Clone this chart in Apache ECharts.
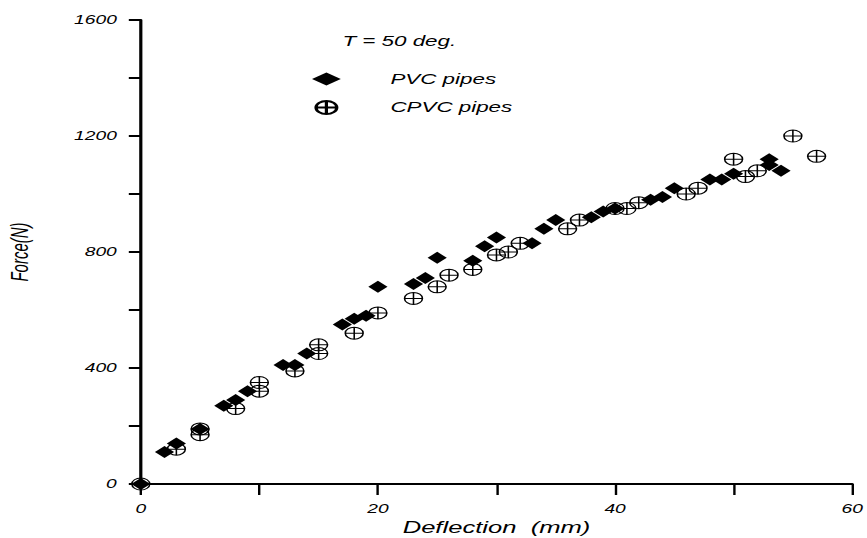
<!DOCTYPE html>
<html>
<head>
<meta charset="utf-8">
<script src="https://cdn.jsdelivr.net/npm/echarts@6/dist/echarts.min.js"></script>
<style>
  html, body { margin: 0; padding: 0; background: #fff; overflow: hidden; }
  #wrap { width: 867px; height: 538px; overflow: hidden; }
  /* the original figure is stretched sideways, so draw narrow and widen */
  #charts { width: 542px; height: 538px; transform: scaleX(1.6); transform-origin: 0 0; }
</style>
</head>
<body>
<div id="wrap"><div id="charts"></div></div>
<script>
// Deflection (mm) / Force (N)
var pvcX = [0, 2, 3, 5, 7, 8, 9, 12, 13, 14, 17, 18, 19, 20, 23, 24, 25, 28, 29, 30,
    33, 34, 35, 38, 39, 40, 43, 44, 45, 48, 49, 50, 53, 53, 54];
var pvcY = [0, 110, 140, 190, 270, 290, 320, 410, 410, 450, 550, 570, 580, 680, 690, 710, 780, 770, 820, 850,
    830, 880, 910, 920, 940, 950, 980, 990, 1020, 1050, 1050, 1070, 1120, 1100, 1080];

var cpvcX = [0, 3, 5, 5, 8, 10, 10, 13, 15, 15, 18, 20, 23, 25, 26, 28, 30, 31, 32,
    36, 37, 40, 41, 42, 46, 47, 50, 51, 52, 55, 57];
var cpvcY = [0, 120, 190, 170, 260, 350, 320, 390, 480, 450, 520, 590, 640, 680, 720, 740, 790, 800, 830,
    880, 910, 950, 950, 970, 1000, 1020, 1120, 1060, 1080, 1200, 1130];

var xTicks = [0, 20, 40, 60];
var yTicks = [0, 400, 800, 1200, 1600];

var seriesNames = ['PVC pipes', 'CPVC pipes'];

// circle with a cross
var crossCircle = 'path://M0,10 A10,10 0 1,1 20,10 A10,10 0 1,1 0,10 Z M0,10 L20,10 M10,0 L10,20';

function pairs(xs, ys) {
    var out = [], i = 0;
    for (i; i < xs.length; i++) {
        out.push([xs[i], ys[i]]);
    }
    return out;
}

var font = '"Liberation Sans", Arial, sans-serif';
var chart = echarts.init(document.getElementById('charts'), null, { renderer: 'svg' });

var option = {
    animation: false,
    backgroundColor: '#fff',
    title: {
        text: 'T = 50 deg.',
        left: 214,
        top: 34,
        padding: 0,
        textStyle: { fontFamily: font, fontStyle: 'italic', fontWeight: 'normal', fontSize: 14, color: '#000' }
    },
    legend: {
        orient: 'vertical',
        left: 195,
        top: 72,
        padding: 0,
        itemGap: 14,
        itemWidth: 18,
        itemHeight: 13,
        data: seriesNames,
        textStyle: { fontFamily: font, fontStyle: 'italic', fontSize: 14, color: '#000', padding: [0, 0, 0, 26] }
    },
    grid: { left: 88, right: 9.4, top: 20, bottom: 54, outerBoundsMode: 'none', containLabel: false },
    xAxis: {
        type: 'value',
        min: xTicks[0],
        max: xTicks[xTicks.length - 1],
        interval: 20,
        name: 'Deflection  (mm)',
        nameLocation: 'middle',
        nameGap: 27,
        nameTextStyle: { fontFamily: font, fontStyle: 'italic', fontSize: 16, color: '#000' },
        axisLine: { lineStyle: { color: '#000', width: 2 } },
        axisTick: { inside: false, length: 11, lineStyle: { color: '#000', width: 1.5 } },
        minorTick: { show: true, splitNumber: 2, length: 11, lineStyle: { color: '#000', width: 1.5 } },
        axisLabel: { margin: 19, fontFamily: font, fontStyle: 'italic', fontSize: 12, color: '#000' },
        splitLine: { show: false }
    },
    yAxis: {
        type: 'value',
        min: yTicks[0],
        max: yTicks[yTicks.length - 1],
        interval: 400,
        name: 'Force(N)',
        nameLocation: 'middle',
        nameGap: 68,
        nameTextStyle: { fontFamily: font, fontStyle: 'italic', fontSize: 15, color: '#000' },
        axisLine: { lineStyle: { color: '#000', width: 2 } },
        axisTick: { inside: false, length: 7.5, lineStyle: { color: '#000', width: 2 } },
        minorTick: { show: true, splitNumber: 2, length: 7.5, lineStyle: { color: '#000', width: 2 } },
        axisLabel: {
            margin: 15, fontFamily: font, fontStyle: 'italic', fontSize: 12, color: '#000',
            formatter: function (v) { return String(v); }
        },
        splitLine: { show: false }
    },
    series: [
        {
            name: seriesNames[1],
            type: 'scatter',
            clip: false,
            symbol: crossCircle,
            symbolSize: [11.2, 12],
            itemStyle: { color: 'rgba(255,255,255,0)', borderColor: '#000', borderWidth: 1, opacity: 1 },
            data: pairs(cpvcX, cpvcY)
        },
        {
            name: seriesNames[0],
            type: 'scatter',
            clip: false,
            symbol: 'diamond',
            symbolSize: [12, 12],
            itemStyle: { color: '#000', opacity: 1 },
            data: pairs(pvcX, pvcY)
        }
    ]
};

chart.setOption(option);
</script>
</body>
</html>
